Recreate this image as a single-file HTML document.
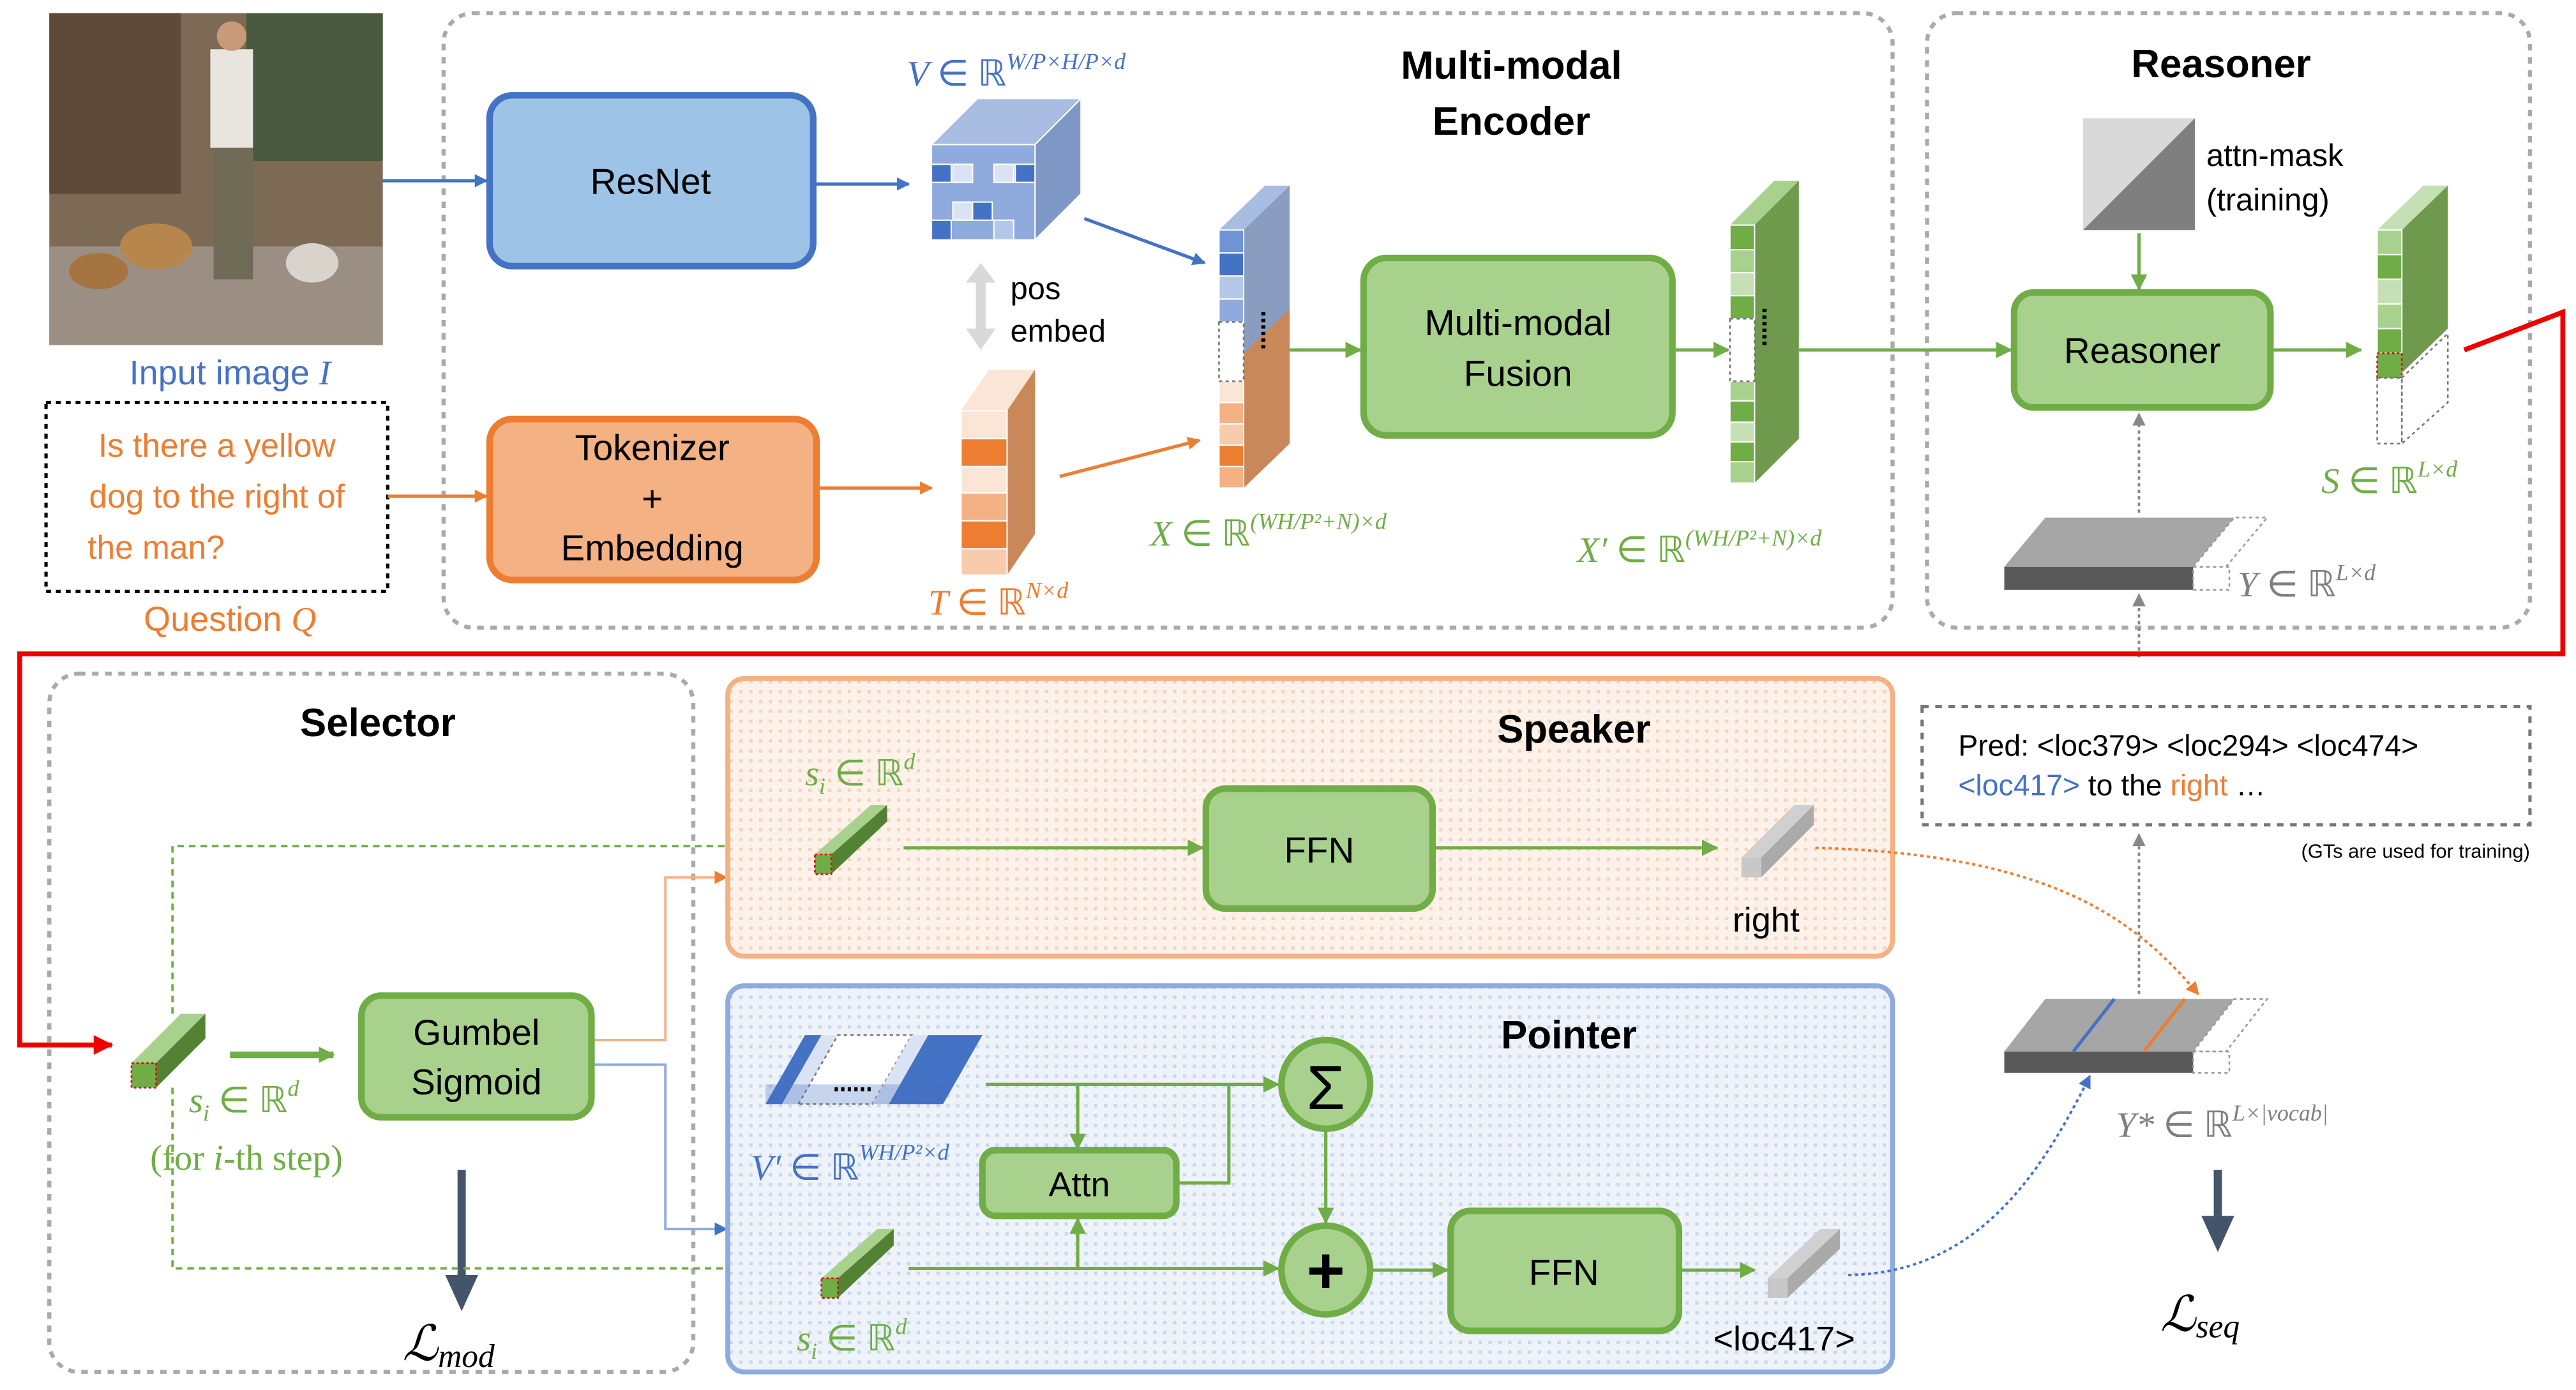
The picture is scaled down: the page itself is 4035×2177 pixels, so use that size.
<!DOCTYPE html>
<html><head><meta charset="utf-8"><style>html,body{margin:0;padding:0;background:#fff}svg{display:block}</style></head><body>
<svg width="4035" height="2177" viewBox="0 0 1568 846" xmlns="http://www.w3.org/2000/svg" font-family="Liberation Sans, sans-serif">
<defs>
<pattern id="po" width="6" height="6" patternUnits="userSpaceOnUse"><rect width="6" height="6" fill="#fdf2ea"/><rect width="2" height="2" fill="#f6d3bb"/></pattern>
<pattern id="pb" width="6" height="6" patternUnits="userSpaceOnUse"><rect width="6" height="6" fill="#eef3fa"/><rect width="2" height="2" fill="#c9d7ef"/></pattern>
<marker id="ab" markerWidth="8" markerHeight="8" refX="7" refY="4" orient="auto" markerUnits="userSpaceOnUse"><path d="M0,0 L8,4 L0,8z" fill="#4472c4"/></marker>
<marker id="ao" markerWidth="8" markerHeight="8" refX="7" refY="4" orient="auto" markerUnits="userSpaceOnUse"><path d="M0,0 L8,4 L0,8z" fill="#ed7d31"/></marker>
<marker id="ag" markerWidth="10" markerHeight="10" refX="9" refY="5" orient="auto" markerUnits="userSpaceOnUse"><path d="M0,0 L10,5 L0,10z" fill="#70ad47"/></marker>
<marker id="ar" markerWidth="12" markerHeight="12" refX="11" refY="6" orient="auto" markerUnits="userSpaceOnUse"><path d="M0,0 L12,6 L0,12z" fill="#e00"/></marker>
<marker id="ay" markerWidth="8" markerHeight="8" refX="7" refY="4" orient="auto" markerUnits="userSpaceOnUse"><path d="M0,0 L8,4 L0,8z" fill="#888"/></marker>
</defs>

<!-- photo -->
<rect x="30" y="8" width="203" height="202" fill="#7d6a55"/>
<rect x="30" y="8" width="80" height="110" fill="#5e4a3a"/>
<rect x="150" y="8" width="83" height="90" fill="#4a5a40"/>
<rect x="30" y="150" width="203" height="60" fill="#9a8f82"/>
<ellipse cx="95" cy="150" rx="22" ry="14" fill="#b7864d"/>
<ellipse cx="60" cy="165" rx="18" ry="11" fill="#a57440"/>
<rect x="128" y="30" width="26" height="60" fill="#e8e5df"/>
<rect x="130" y="90" width="24" height="80" fill="#6f6b57"/>
<circle cx="141" cy="22" r="9" fill="#c99a7a"/>
<ellipse cx="190" cy="160" rx="16" ry="12" fill="#d8d4cc"/>
<text x="140" y="234" font-size="21" fill="#4472c4" text-anchor="middle">Input image <tspan font-style="italic" font-family="Liberation Serif">I</tspan></text>

<rect x="28" y="245" width="208" height="115" fill="none" stroke="#000" stroke-width="2" stroke-dasharray="3,3"/>
<g font-size="20" fill="#ed7d31" text-anchor="middle"><text x="132" y="278">Is there a yellow</text><text x="132" y="309">dog to the right of</text><text x="95" y="340">the man?</text></g>
<text x="140" y="384" font-size="21" fill="#ed7d31" text-anchor="middle">Question <tspan font-style="italic" font-family="Liberation Serif">Q</tspan></text>

<rect x="270" y="8" width="882" height="374" rx="18" fill="none" stroke="#aaa" stroke-width="2.5" stroke-dasharray="4,4"/>
<rect x="1173" y="8" width="367" height="374" rx="18" fill="none" stroke="#aaa" stroke-width="2.5" stroke-dasharray="4,4"/>
<text x="920" y="48" font-size="24" font-weight="bold" text-anchor="middle">Multi-modal</text>
<text x="920" y="82" font-size="24" font-weight="bold" text-anchor="middle">Encoder</text>
<text x="1352" y="47" font-size="24" font-weight="bold" text-anchor="middle">Reasoner</text>

<rect x="298" y="58" width="197" height="104" rx="14" fill="#9dc3e6" stroke="#4472c4" stroke-width="4"/>
<text x="396" y="118" font-size="22" text-anchor="middle">ResNet</text>
<rect x="298" y="255" width="199" height="98" rx="14" fill="#f4b183" stroke="#ed7d31" stroke-width="4"/>
<g font-size="22" text-anchor="middle"><text x="397" y="280">Tokenizer</text><text x="397" y="311">+</text><text x="397" y="341">Embedding</text></g>
<line x1="233" y1="110" x2="296" y2="110" stroke="#4472c4" stroke-width="2" marker-end="url(#ab)"/>
<line x1="236" y1="302" x2="296" y2="302" stroke="#ed7d31" stroke-width="2" marker-end="url(#ao)"/>
<line x1="497" y1="112" x2="553" y2="112" stroke="#4472c4" stroke-width="2" marker-end="url(#ab)"/>
<line x1="499" y1="297" x2="567" y2="297" stroke="#ed7d31" stroke-width="2" marker-end="url(#ao)"/>

<!-- V cube -->
<g stroke="#fff" stroke-width="0.8">
<polygon points="567,88 595,60 658,60 630,88" fill="#a9bde3"/>
<polygon points="630,88 658,60 658,118 630,146" fill="#7f97c4"/>
<rect x="567" y="88" width="63" height="58" fill="#8faadc"/>
<rect x="567" y="100" width="12" height="11" fill="#4472c4"/><rect x="580" y="100" width="12" height="11" fill="#dae3f3"/><rect x="605" y="100" width="12" height="11" fill="#dae3f3"/><rect x="618" y="100" width="12" height="11" fill="#4472c4"/>
<rect x="580" y="123" width="12" height="11" fill="#dae3f3"/><rect x="592" y="123" width="12" height="11" fill="#4472c4"/>
<rect x="567" y="134" width="12" height="12" fill="#4472c4"/><rect x="605" y="134" width="12" height="12" fill="#b4c7e7"/>
</g>
<text x="552" y="52" font-size="22" fill="#4472c4" font-family="Liberation Serif" font-style="italic">V <tspan font-style="normal">∈ ℝ</tspan><tspan font-size="14" dy="-10">W/P×H/P×d</tspan></text>
<path d="M597,160 L588,172 L594,172 L594,200 L588,200 L597,213 L606,200 L600,200 L600,172 L606,172Z" fill="#d9d9d9"/>
<text x="615" y="182" font-size="19">pos</text><text x="615" y="208" font-size="19">embed</text>

<!-- T column -->
<polygon points="585,250 602,225 630,225 613,250" fill="#fbe5d6"/>
<polygon points="613,250 630,225 630,325 613,350" fill="#c9885a"/>
<g stroke="#fff" stroke-width="0.8">
<rect x="585" y="250" width="28" height="17" fill="#fbe5d6"/><rect x="585" y="267" width="28" height="17" fill="#ed7d31"/><rect x="585" y="284" width="28" height="16" fill="#fbe5d6"/><rect x="585" y="300" width="28" height="17" fill="#f4b183"/><rect x="585" y="317" width="28" height="17" fill="#ed7d31"/><rect x="585" y="334" width="28" height="16" fill="#f8cbad"/></g>
<text x="565" y="374" font-size="22" fill="#ed7d31" font-family="Liberation Serif" font-style="italic">T <tspan font-style="normal">∈ ℝ</tspan><tspan font-size="14" dy="-10">N×d</tspan></text>

<!-- X column -->
<line x1="660" y1="133" x2="733" y2="160" stroke="#4472c4" stroke-width="2" marker-end="url(#ab)"/>
<line x1="645" y1="290" x2="730" y2="268" stroke="#ed7d31" stroke-width="2" marker-end="url(#ao)"/>
<polygon points="742,140 770,113 785,113 757,140" fill="#a9bde3"/>
<polygon points="757,140 785,113 785,270 757,297" fill="#8a9dc0"/>
<polygon points="757,215 785,188 785,270 757,297" fill="#c9885a"/>
<g stroke="#fff" stroke-width="0.8">
<rect x="742" y="140" width="15" height="14" fill="#6f94d6"/><rect x="742" y="154" width="15" height="14" fill="#4472c4"/><rect x="742" y="168" width="15" height="14" fill="#b4c7e7"/><rect x="742" y="182" width="15" height="14" fill="#8faadc"/>
<rect x="742" y="232" width="15" height="13" fill="#fbe5d6"/><rect x="742" y="245" width="15" height="13" fill="#f4b183"/><rect x="742" y="258" width="15" height="13" fill="#f8cbad"/><rect x="742" y="271" width="15" height="13" fill="#ed7d31"/><rect x="742" y="284" width="15" height="13" fill="#f4b183"/></g>
<rect x="742" y="196" width="15" height="36" fill="#fff" stroke="#777" stroke-dasharray="2,2"/>
<line x1="769" y1="190" x2="769" y2="214" stroke="#000" stroke-width="2.5" stroke-dasharray="2,2"/>
<text x="700" y="332" font-size="22" fill="#70ad47" font-family="Liberation Serif" font-style="italic">X <tspan font-style="normal">∈ ℝ</tspan><tspan font-size="14" dy="-10">(WH/P²+N)×d</tspan></text>
<line x1="785" y1="213" x2="828" y2="213" stroke="#70ad47" stroke-width="2" marker-end="url(#ag)"/>

<rect x="830" y="157" width="188" height="108" rx="14" fill="#a9d18e" stroke="#70ad47" stroke-width="4"/>
<text x="924" y="204" font-size="22" text-anchor="middle">Multi-modal</text><text x="924" y="235" font-size="22" text-anchor="middle">Fusion</text>
<line x1="1018" y1="213" x2="1052" y2="213" stroke="#70ad47" stroke-width="2" marker-end="url(#ag)"/>

<!-- X' column -->
<polygon points="1053,137 1080,110 1095,110 1068,137" fill="#a9d18e"/>
<polygon points="1068,137 1095,110 1095,267 1068,294" fill="#6f9a4e"/>
<g stroke="#fff" stroke-width="0.8">
<rect x="1053" y="137" width="15" height="15" fill="#70ad47"/><rect x="1053" y="152" width="15" height="14" fill="#a9d18e"/><rect x="1053" y="166" width="15" height="14" fill="#c5e0b4"/><rect x="1053" y="180" width="15" height="14" fill="#70ad47"/>
<rect x="1053" y="232" width="15" height="12" fill="#a9d18e"/><rect x="1053" y="244" width="15" height="13" fill="#70ad47"/><rect x="1053" y="257" width="15" height="12" fill="#c5e0b4"/><rect x="1053" y="269" width="15" height="12" fill="#70ad47"/><rect x="1053" y="281" width="15" height="13" fill="#a9d18e"/></g>
<rect x="1053" y="194" width="15" height="38" fill="#fff" stroke="#777" stroke-dasharray="2,2"/>
<line x1="1074" y1="188" x2="1074" y2="212" stroke="#000" stroke-width="2.5" stroke-dasharray="2,2"/>
<text x="960" y="342" font-size="22" fill="#70ad47" font-family="Liberation Serif" font-style="italic">X′ <tspan font-style="normal">∈ ℝ</tspan><tspan font-size="14" dy="-10">(WH/P²+N)×d</tspan></text>
<line x1="1095" y1="213" x2="1224" y2="213" stroke="#70ad47" stroke-width="2" marker-end="url(#ag)"/>

<!-- reasoner -->
<polygon points="1268,72 1336,72 1336,140 1268,140" fill="#d9d9d9"/>
<polygon points="1268,140 1336,72 1336,140" fill="#7f7f7f"/>
<text x="1343" y="101" font-size="19">attn-mask</text><text x="1343" y="128" font-size="19">(training)</text>
<line x1="1302" y1="142" x2="1302" y2="176" stroke="#70ad47" stroke-width="2" marker-end="url(#ag)"/>
<rect x="1226" y="178" width="156" height="70" rx="12" fill="#a9d18e" stroke="#70ad47" stroke-width="4"/>
<text x="1304" y="221" font-size="22" text-anchor="middle">Reasoner</text>
<line x1="1382" y1="213" x2="1437" y2="213" stroke="#70ad47" stroke-width="2" marker-end="url(#ag)"/>
<line x1="1302" y1="312" x2="1302" y2="252" stroke="#888" stroke-width="1.5" stroke-dasharray="2,2" marker-end="url(#ay)"/>
<line x1="1302" y1="400" x2="1302" y2="362" stroke="#888" stroke-width="1.5" stroke-dasharray="2,2" marker-end="url(#ay)"/>
<!-- S column -->
<polygon points="1447,140 1475,113 1490,113 1462,140" fill="#c5e0b4"/>
<polygon points="1462,140 1490,113 1490,200 1462,227" fill="#6f9a4e"/>
<g stroke="#fff" stroke-width="0.8"><rect x="1447" y="140" width="15" height="15" fill="#a9d18e"/><rect x="1447" y="155" width="15" height="15" fill="#70ad47"/><rect x="1447" y="170" width="15" height="15" fill="#c5e0b4"/><rect x="1447" y="185" width="15" height="15" fill="#a9d18e"/><rect x="1447" y="200" width="15" height="15" fill="#70ad47"/></g>
<rect x="1447" y="215" width="15" height="15" fill="#70ad47" stroke="#e00" stroke-dasharray="1.5,1.5"/>
<rect x="1447" y="230" width="15" height="40" fill="#fff" stroke="#777" stroke-dasharray="2,2"/>
<polygon points="1462,230 1490,203 1490,245 1462,270" fill="none" stroke="#777" stroke-dasharray="2,2"/>
<text x="1413" y="300" font-size="22" fill="#70ad47" font-family="Liberation Serif" font-style="italic">S <tspan font-style="normal">∈ ℝ</tspan><tspan font-size="14" dy="-10">L×d</tspan></text>
<!-- Y bar -->
<polygon points="1220,345 1245,315 1360,315 1335,345" fill="#a6a6a6"/>
<rect x="1220" y="345" width="115" height="14" fill="#595959"/>
<polygon points="1335,345 1360,315 1380,315 1355,345" fill="#fff" stroke="#999" stroke-dasharray="2,2"/>
<rect x="1335" y="345" width="22" height="14" fill="#fff" stroke="#999" stroke-dasharray="2,2"/>
<text x="1362" y="363" font-size="22" fill="#7f7f7f" font-family="Liberation Serif" font-style="italic">Y <tspan font-style="normal">∈ ℝ</tspan><tspan font-size="14" dy="-10">L×d</tspan></text>

<!-- red path -->
<polyline points="1500,213 1560,190 1560,398 12,398 12,636 68,636" fill="none" stroke="#e00" stroke-width="3" marker-end="url(#ar)"/>

<!-- Selector -->
<rect x="30" y="410" width="392" height="425" rx="18" fill="none" stroke="#aaa" stroke-width="2.5" stroke-dasharray="4,4"/>
<text x="230" y="448" font-size="24" font-weight="bold" text-anchor="middle">Selector</text>
<polygon points="80,647 110,617 125,617 95,647" fill="#a9d18e"/><polygon points="95,647 125,617 125,632 95,662" fill="#548235"/><rect x="80" y="647" width="15" height="15" fill="#70ad47" stroke="#e00" stroke-dasharray="1.5,1.5"/>
<line x1="140" y1="642" x2="203" y2="642" stroke="#70ad47" stroke-width="4" marker-end="url(#ag)"/>
<text x="115" y="677" font-size="22" fill="#70ad47" font-family="Liberation Serif" font-style="italic">s<tspan font-size="14" dy="5">i</tspan><tspan dy="-5" font-style="normal"> ∈ ℝ</tspan><tspan font-size="14" dy="-10">d</tspan></text>
<text x="150" y="712" font-size="22" fill="#70ad47" font-family="Liberation Serif" text-anchor="middle">(for <tspan font-style="italic">i</tspan>-th step)</text>
<rect x="220" y="606" width="140" height="74" rx="12" fill="#a9d18e" stroke="#70ad47" stroke-width="4"/>
<text x="290" y="636" font-size="22" text-anchor="middle">Gumbel</text><text x="290" y="666" font-size="22" text-anchor="middle">Sigmoid</text>
<line x1="281" y1="712" x2="281" y2="778" stroke="#44546a" stroke-width="5"/>
<polygon points="271,776 291,776 281,798" fill="#44546a"/>
<text x="245" y="828" font-size="30" font-family="Liberation Serif" font-style="italic">ℒ<tspan font-size="20" dy="4">mod</tspan></text>
<polyline points="105,617 105,515 485,515" fill="none" stroke="#70ad47" stroke-width="1.5" stroke-dasharray="4,3" marker-end="url(#ag)"/>
<polyline points="105,662 105,772 488,772" fill="none" stroke="#70ad47" stroke-width="1.5" stroke-dasharray="4,3" marker-end="url(#ag)"/>
<polyline points="362,633 405,633 405,534 442,534" fill="none" stroke="#f4b183" stroke-width="1.5" marker-end="url(#ao)"/>
<polyline points="362,648 405,648 405,748 442,748" fill="none" stroke="#8faadc" stroke-width="1.5" marker-end="url(#ab)"/>

<!-- Speaker -->
<rect x="443" y="413" width="709" height="169" rx="10" fill="url(#po)" stroke="#f4b183" stroke-width="3"/>
<text x="958" y="452" font-size="24" font-weight="bold" text-anchor="middle">Speaker</text>
<text x="490" y="478" font-size="22" fill="#70ad47" font-family="Liberation Serif" font-style="italic">s<tspan font-size="14" dy="5">i</tspan><tspan dy="-5" font-style="normal"> ∈ ℝ</tspan><tspan font-size="14" dy="-10">d</tspan></text>
<polygon points="496,520 530,490 540,490 506,520" fill="#a9d18e"/><polygon points="506,520 540,490 540,500 506,532" fill="#548235"/><rect x="496" y="520" width="10" height="12" fill="#70ad47" stroke="#e00" stroke-dasharray="1.5,1.5"/>
<line x1="550" y1="516" x2="732" y2="516" stroke="#70ad47" stroke-width="2" marker-end="url(#ag)"/>
<rect x="734" y="480" width="138" height="73" rx="12" fill="#a9d18e" stroke="#70ad47" stroke-width="4"/>
<text x="803" y="525" font-size="22" text-anchor="middle">FFN</text>
<line x1="872" y1="516" x2="1045" y2="516" stroke="#70ad47" stroke-width="2" marker-end="url(#ag)"/>
<polygon points="1060,522 1092,490 1104,490 1072,522" fill="#d0d0d0"/><polygon points="1072,522 1104,490 1104,502 1072,534" fill="#aaa"/><rect x="1060" y="522" width="12" height="12" fill="#c8c8c8"/>
<text x="1075" y="567" font-size="21" text-anchor="middle">right</text>
<path d="M1105,516 C1250,520 1300,560 1338,605" fill="none" stroke="#ed7d31" stroke-width="1.5" stroke-dasharray="2,2" marker-end="url(#ao)"/>

<!-- Pointer -->
<rect x="443" y="600" width="709" height="235" rx="10" fill="url(#pb)" stroke="#8faadc" stroke-width="3"/>
<text x="955" y="638" font-size="24" font-weight="bold" text-anchor="middle">Pointer</text>
<polygon points="466,672 490,630 500,630 476,672" fill="#4472c4"/><polygon points="476,672 500,630 510,630 486,672" fill="#dae3f3"/>
<polygon points="486,672 510,630 555,630 531,672" fill="#fff" stroke="#777" stroke-dasharray="2,2"/>
<polygon points="531,672 555,630 565,630 541,672" fill="#dae3f3"/><polygon points="541,672 565,630 598,630 574,672" fill="#4472c4"/>
<rect x="466" y="660" width="108" height="12" fill="#4472c4" opacity="0.3"/>
<line x1="508" y1="663" x2="530" y2="663" stroke="#000" stroke-width="2.5" stroke-dasharray="2,2"/>
<text x="457" y="718" font-size="22" fill="#4472c4" font-family="Liberation Serif" font-style="italic">V′ <tspan font-style="normal">∈ ℝ</tspan><tspan font-size="14" dy="-12">WH/P²×d</tspan></text>
<line x1="600" y1="660" x2="778" y2="660" stroke="#70ad47" stroke-width="2" marker-end="url(#ag)"/>
<line x1="656" y1="660" x2="656" y2="699" stroke="#70ad47" stroke-width="2" marker-end="url(#ag)"/>
<polyline points="716,720 748,720 748,660" fill="none" stroke="#70ad47" stroke-width="2"/>
<rect x="598" y="700" width="118" height="40" rx="8" fill="#a9d18e" stroke="#70ad47" stroke-width="4"/>
<text x="657" y="728" font-size="21" text-anchor="middle">Attn</text>
<circle cx="807" cy="660" r="27" fill="#a9d18e" stroke="#70ad47" stroke-width="4"/>
<text x="807" y="675" font-size="38" text-anchor="middle">Σ</text>
<line x1="807" y1="687" x2="807" y2="744" stroke="#70ad47" stroke-width="2" marker-end="url(#ag)"/>
<circle cx="807" cy="773" r="27" fill="#a9d18e" stroke="#70ad47" stroke-width="4"/>
<text x="807" y="787" font-size="40" font-weight="bold" text-anchor="middle">+</text>
<polygon points="500,778 534,748 544,748 510,778" fill="#a9d18e"/><polygon points="510,778 544,748 544,758 510,790" fill="#548235"/><rect x="500" y="778" width="10" height="12" fill="#70ad47" stroke="#e00" stroke-dasharray="1.5,1.5"/>
<line x1="553" y1="772" x2="778" y2="772" stroke="#70ad47" stroke-width="2" marker-end="url(#ag)"/>
<line x1="656" y1="772" x2="656" y2="742" stroke="#70ad47" stroke-width="2" marker-end="url(#ag)"/>
<text x="485" y="822" font-size="22" fill="#70ad47" font-family="Liberation Serif" font-style="italic">s<tspan font-size="14" dy="5">i</tspan><tspan dy="-5" font-style="normal"> ∈ ℝ</tspan><tspan font-size="14" dy="-10">d</tspan></text>
<line x1="834" y1="773" x2="881" y2="773" stroke="#70ad47" stroke-width="2" marker-end="url(#ag)"/>
<rect x="883" y="737" width="139" height="73" rx="12" fill="#a9d18e" stroke="#70ad47" stroke-width="4"/>
<text x="952" y="782" font-size="22" text-anchor="middle">FFN</text>
<line x1="1022" y1="773" x2="1068" y2="773" stroke="#70ad47" stroke-width="2" marker-end="url(#ag)"/>
<polygon points="1076,778 1108,748 1120,748 1088,778" fill="#d0d0d0"/><polygon points="1088,778 1120,748 1120,760 1088,790" fill="#aaa"/><rect x="1076" y="778" width="12" height="12" fill="#c8c8c8"/>
<text x="1086" y="822" font-size="21" text-anchor="middle">&lt;loc417&gt;</text>
<path d="M1125,776 C1200,775 1240,720 1272,655" fill="none" stroke="#4472c4" stroke-width="1.5" stroke-dasharray="2,2" marker-end="url(#ab)"/>

<!-- Pred box -->
<rect x="1170" y="430" width="370" height="72" fill="none" stroke="#777" stroke-width="2" stroke-dasharray="4,4"/>
<text x="1192" y="460" font-size="18">Pred: &lt;loc379&gt; &lt;loc294&gt; &lt;loc474&gt;</text>
<text x="1192" y="484" font-size="18"><tspan fill="#4472c4">&lt;loc417&gt;</tspan> to the <tspan fill="#ed7d31">right</tspan> …</text>
<text x="1540" y="522" font-size="12" text-anchor="end">(GTs are used for training)</text>
<line x1="1302" y1="605" x2="1302" y2="508" stroke="#888" stroke-width="1.5" stroke-dasharray="2,2" marker-end="url(#ay)"/>
<!-- Y* bar -->
<polygon points="1220,640 1245,608 1360,608 1335,640" fill="#a6a6a6"/>
<rect x="1220" y="640" width="115" height="13" fill="#595959"/>
<line x1="1262" y1="640" x2="1287" y2="608" stroke="#4472c4" stroke-width="2"/><line x1="1305" y1="640" x2="1330" y2="608" stroke="#ed7d31" stroke-width="2"/>
<polygon points="1335,640 1360,608 1380,608 1355,640" fill="#fff" stroke="#999" stroke-dasharray="2,2"/>
<rect x="1335" y="640" width="22" height="13" fill="#fff" stroke="#999" stroke-dasharray="2,2"/>
<text x="1288" y="692" font-size="22" fill="#7f7f7f" font-family="Liberation Serif" font-style="italic">Y* <tspan font-style="normal">∈ ℝ</tspan><tspan font-size="14" dy="-10">L×|vocab|</tspan></text>
<line x1="1350" y1="712" x2="1350" y2="742" stroke="#44546a" stroke-width="5"/>
<polygon points="1340,740 1360,740 1350,762" fill="#44546a"/>
<text x="1315" y="810" font-size="30" font-family="Liberation Serif" font-style="italic">ℒ<tspan font-size="20" dy="4">seq</tspan></text>
</svg>
</body></html>
